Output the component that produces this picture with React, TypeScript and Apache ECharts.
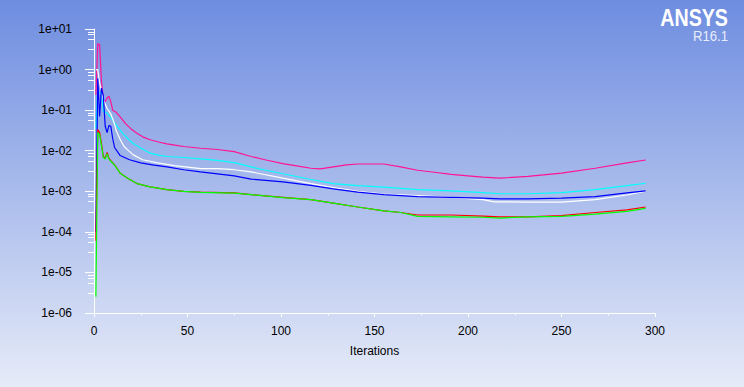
import { useEffect, useRef } from "react";
import * as echarts from "echarts";

// Residual histories: [iteration, residual]
const epsilonRes: [number, number][] = [
  [1, 0.24], [2, 4.3], [3, 4.2], [4, 0.5], [5, 0.18], [6, 0.16], [7, 0.2], [8, 0.22], [9, 0.16], [10, 0.1],
  [12, 0.087], [14, 0.068], [17, 0.046], [20, 0.034], [23, 0.027], [26, 0.022], [30, 0.0186], [35, 0.0162],
  [39, 0.0148], [44, 0.0136], [48, 0.0127], [57, 0.0115], [66, 0.0107], [75, 0.0095], [84, 0.0072], [92, 0.0059],
  [101, 0.0048], [110, 0.0041], [116, 0.0037], [121, 0.00355], [128, 0.004], [135, 0.0045], [141, 0.0047],
  [155, 0.0047], [164, 0.004], [173, 0.0033], [182, 0.00295], [191, 0.0026], [200, 0.0024], [208, 0.00224],
  [217, 0.0021], [232, 0.00234], [250, 0.0028], [268, 0.0037], [285, 0.005], [295, 0.0059],
];
const kRes: [number, number][] = [
  [1, 0.035], [2, 0.29], [3, 0.26], [4, 0.27], [5, 0.093], [6, 0.09], [7, 0.085], [9, 0.065], [12, 0.042],
  [15, 0.028], [18, 0.02], [21, 0.015], [25, 0.0117], [30, 0.0087], [35, 0.0077], [39, 0.0072], [48, 0.0068],
  [57, 0.0063], [66, 0.0058], [75, 0.0051], [84, 0.004], [92, 0.0033], [101, 0.0027], [116, 0.00195],
  [128, 0.00155], [141, 0.00138], [155, 0.00126], [173, 0.0011], [191, 0.00102], [208, 0.00093], [217, 0.00087],
  [232, 0.00087], [250, 0.00093], [268, 0.0011], [285, 0.00138], [295, 0.00158],
];
const continuityRes: [number, number][] = [
  [1, 1.0], [2, 1.0], [3, 0.47], [4, 0.3], [5, 0.18], [7, 0.11], [9, 0.08], [11, 0.045], [12, 0.03], [14, 0.019],
  [16, 0.0129], [18, 0.0105], [21, 0.0079], [26, 0.006], [34, 0.005], [43, 0.0043], [57, 0.0036], [66, 0.0036],
  [75, 0.0034], [84, 0.003], [101, 0.0021], [116, 0.00155], [128, 0.00123], [141, 0.001], [155, 0.00085],
  [173, 0.00078], [191, 0.00071], [208, 0.00062], [214, 0.00055], [232, 0.00054], [250, 0.00054], [268, 0.00062],
  [285, 0.00081], [295, 0.001],
];
const zVelocityRes: [number, number][] = [
  [1, 0.0001], [2, 0.6], [3, 0.07], [4, 0.35], [5, 0.22], [6, 0.04], [7, 0.028], [8, 0.042], [9, 0.04], [10, 0.02],
  [11, 0.012], [14, 0.0076], [19, 0.006], [25, 0.005], [32, 0.0044], [39, 0.004], [48, 0.0034], [57, 0.003],
  [66, 0.0027], [75, 0.0024], [84, 0.002], [101, 0.0017], [116, 0.0014], [128, 0.00115], [141, 0.00095],
  [155, 0.00083], [173, 0.00074], [191, 0.00071], [208, 0.00068], [217, 0.00065], [232, 0.00065], [250, 0.00068],
  [268, 0.00074], [285, 0.00091], [295, 0.00102],
];
const xVelocityRes: [number, number][] = [
  [1, 0.00006], [2, 0.033], [3, 0.028], [4, 0.015], [5, 0.0072], [6, 0.0065], [7, 0.0091], [8, 0.0065], [9, 0.0057],
  [11, 0.0045], [14, 0.0028], [18, 0.0021], [23, 0.00155], [30, 0.00129], [39, 0.0011], [48, 0.001], [57, 0.00095],
  [75, 0.00091], [84, 0.00083], [101, 0.00071], [116, 0.00062], [128, 0.00051], [141, 0.00041], [155, 0.00033],
  [164, 0.0003], [173, 0.00026], [191, 0.00026], [208, 0.000245], [217, 0.000234], [232, 0.000234], [250, 0.00025],
  [268, 0.0003], [285, 0.00035], [295, 0.00041],
];
const yVelocityRes: [number, number][] = [
  [1, 0.0000025], [2, 0.028], [3, 0.025], [4, 0.013], [5, 0.0068], [6, 0.0062], [7, 0.0085], [8, 0.0062],
  [9, 0.0055], [11, 0.0044], [14, 0.0028], [18, 0.0021], [23, 0.00155], [30, 0.00128], [39, 0.0011], [48, 0.001],
  [57, 0.00094], [75, 0.0009], [84, 0.00083], [101, 0.0007], [116, 0.00062], [128, 0.00051], [141, 0.00041],
  [155, 0.00033], [164, 0.0003], [173, 0.00024], [191, 0.000234], [208, 0.000229], [217, 0.000219], [232, 0.000234],
  [250, 0.00024], [268, 0.000275], [285, 0.00032], [295, 0.00038],
];

// Axis settings
const xTicks = { min: 0, max: 300, interval: 50 };
const yRange = { min: 1e-6, max: 10 };
const yDecades = [1, 0, -1, -2, -3, -4, -5];
const yMinorFractions = [1 / 16, 1 / 8, 1 / 4, 1 / 2];

const FONT = '"Liberation Sans", Arial, sans-serif';

export default function App() {
  const ref = useRef<HTMLDivElement>(null);
  useEffect(() => {
    document.body.style.margin = "0";
    const chart = echarts.init(ref.current!, null, { renderer: "svg" });
    const minorTicks: [number, number][] = [];
    yDecades.forEach((k) => yMinorFractions.forEach((f) => minorTicks.push([0, Math.pow(10, k - f)])));

    const line = (name: string, data: [number, number][], color: string, z: number) => ({
      name,
      type: "line",
      data,
      showSymbol: false,
      symbol: "none",
      z,
      lineStyle: { color, width: 1.2 },
    });

    chart.setOption({
      animation: false,
      backgroundColor: new echarts.graphic.LinearGradient(0, 0, 0, 1, [
        { offset: 0, color: "#6e8de0" },
        { offset: 1, color: "#e6ebf8" },
      ]),
      grid: { left: 94, top: 29, width: 561, height: 284, containLabel: false },
      xAxis: {
        type: "value",
        min: xTicks.min,
        max: xTicks.max,
        interval: xTicks.interval,
        name: "Iterations",
        nameLocation: "middle",
        nameGap: 32,
        nameTextStyle: { color: "#000", fontSize: 12, fontFamily: FONT },
        axisLine: { onZero: false, lineStyle: { color: "#fff", width: 1 } },
        axisTick: { length: 4, lineStyle: { color: "#fff" } },
        minorTick: { show: true, splitNumber: 2, length: 2.5, lineStyle: { color: "#fff" } },
        splitLine: { show: false },
        axisLabel: { color: "#000", fontSize: 12, fontFamily: FONT, margin: 12 },
      },
      yAxis: {
        type: "log",
        logBase: 10,
        min: yRange.min,
        max: yRange.max,
        axisLine: { show: true, onZero: false, lineStyle: { color: "#fff", width: 1 } },
        axisTick: { show: true, length: 9, lineStyle: { color: "#fff" } },
        splitLine: { show: false },
        axisLabel: {
          color: "#000",
          fontSize: 12,
          fontFamily: FONT,
          margin: 22,
          formatter: (v: number) => {
            const e = Math.round(Math.log10(v));
            return "1e" + (e < 0 ? "-" : "+") + String(Math.abs(e)).padStart(2, "0");
          },
        },
      },
      graphic: [
        {
          type: "text",
          x: 728,
          y: 6,
          scaleX: 0.82,
          style: {
            text: "ANSYS",
            fill: "#ffffff",
            font: 'bold 24px ' + FONT,
            align: "right",
            verticalAlign: "top",
            textAlign: "right",
            textVerticalAlign: "top",
          },
        },
        {
          type: "text",
          x: 728,
          y: 29,
          scaleX: 0.94,
          style: {
            text: "R16.1",
            fill: "#e8eef9",
            font: '14px ' + FONT,
            align: "right",
            verticalAlign: "top",
            textAlign: "right",
            textVerticalAlign: "top",
          },
        },
      ],
      series: [
        {
          type: "custom",
          coordinateSystem: "cartesian2d",
          silent: true,
          clip: false,
          data: minorTicks,
          z: 1,
          renderItem: (_p: any, api: any) => {
            const p = api.coord([api.value(0), api.value(1)]);
            const y = Math.round(p[1]) + 0.5;
            return {
              type: "line",
              shape: { x1: p[0] - 6, y1: y, x2: p[0], y2: y },
              style: { stroke: "#ffffff", lineWidth: 1 },
            };
          },
        },
        line("epsilon", epsilonRes, "#ff1493", 3),
        line("k", kRes, "#00ffff", 4),
        line("continuity", continuityRes, "#ffffff", 5),
        line("z-velocity", zVelocityRes, "#0000ff", 6),
        line("x-velocity", xVelocityRes, "#ff0000", 7),
        line("y-velocity", yVelocityRes, "#00ff00", 8),
      ],
    });
    return () => chart.dispose();
  }, []);
  return <div ref={ref} style={{ position: "fixed", left: 0, top: 0, width: 744, height: 387 }} />;
}
